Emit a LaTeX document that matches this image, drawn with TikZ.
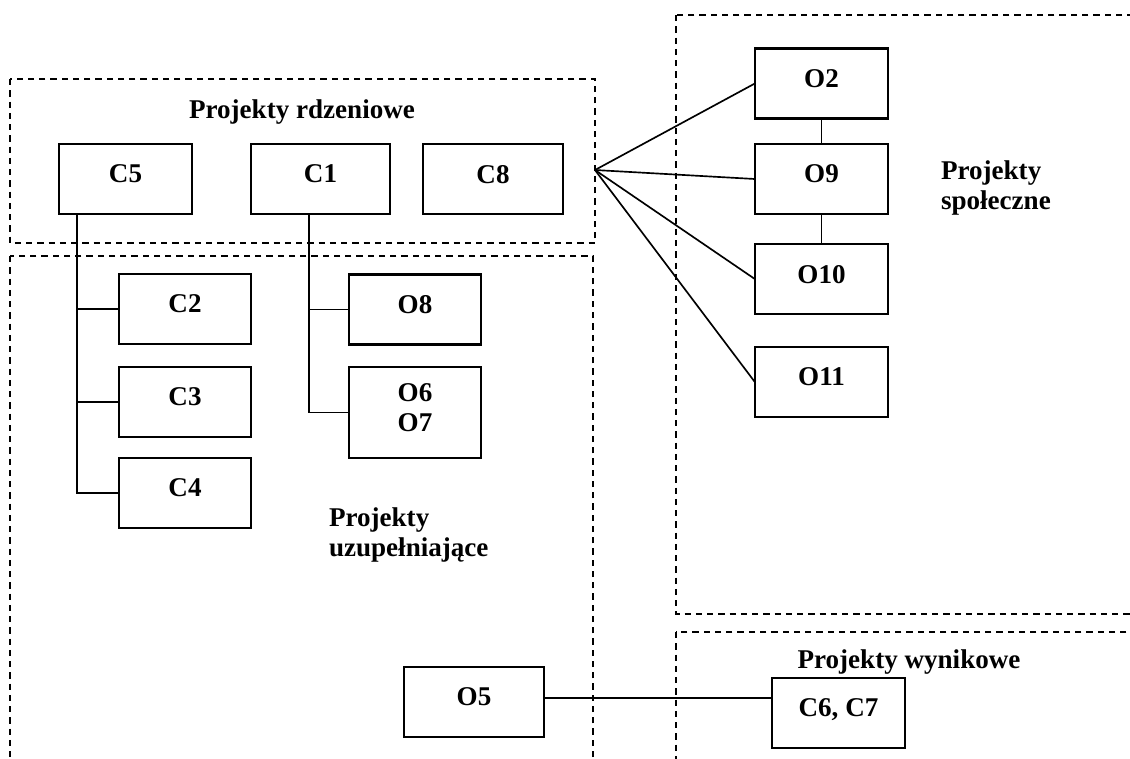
\documentclass[tikz,border=0pt]{standalone}
\usepackage{fontspec}
\setmainfont{Liberation Serif}
\begin{document}
\begin{tikzpicture}[x=0.48pt,y=-0.48pt,inner sep=0pt,outer sep=0pt,
projbox/.style={draw,rectangle,line width=1pt,minimum width=64pt,minimum height=33.6pt,text depth=4.8pt,align=center},
grupa/.style={line width=0.8pt,dash pattern=on 3pt off 2.4pt},
lacze/.style={line width=0.8pt},
opis/.style={align=left,anchor=west}]
\useasboundingbox (0,0) rectangle (1130,758);
\clip (0,0) rectangle (1130,758);
\bfseries\fontsize{13}{14.4}\selectfont

% ramki grup
\draw[grupa] (10,79) rectangle (595,243);
\draw[grupa] (10,256) rectangle (593,800);
\draw[grupa] (676,15) rectangle (1200,614);
\draw[grupa] (676,632) rectangle (1200,800);

\draw (302,112) node (rdzen) {Projekty rdzeniowe};
\draw (941,188) node[opis] (spol) {Projekty\\społeczne};
\draw (329,535) node[opis] (uzup) {Projekty\\uzupełniające};
\draw (909,662) node (wynik) {Projekty wynikowe};

\draw (125.5,179) node[projbox] (C5) {C5};
\draw (320.5,179) node[projbox,minimum width=66.7pt] (C1) {C1};
\draw (493,179) node[projbox,minimum width=67.2pt] (C8) {C8};
\draw (185,309) node[projbox,minimum width=63.4pt] (C2) {C2};
\draw (185,402) node[projbox,minimum width=63.4pt] (C3) {C3};
\draw (185,493) node[projbox,minimum width=63.4pt] (C4) {C4};
\draw (415,309.5) node[projbox,minimum width=63.4pt] (O8) {O8};
\draw (415,412.5) node[projbox,minimum width=63.4pt,minimum height=43.7pt] (O67) {O6\\O7};
\draw (821.5,83.5) node[projbox] (O2) {O2};
\draw (821.5,179) node[projbox] (O9) {O9};
\draw (821.5,279) node[projbox] (O10) {O10};
\draw (821.5,382) node[projbox] (O11) {O11};
\draw (474,702) node[projbox,minimum width=67.2pt] (O5) {O5};
\draw (838.5,713) node[projbox] (C67) {C6, C7};
\coordinate (hub) at (595,170);

\draw[lacze] (C5.south west) ++(18,0) |- (C2.west);
\draw[lacze] (C5.south west) ++(18,0) |- (C3.west);
\draw[lacze] (C5.south west) ++(18,0) |- (C4.west);
\draw[lacze] (C1.south west) ++(58,0) |- (O8.west);
\draw[lacze] (C1.south west) ++(58,0) |- (O67.west);
\draw[lacze] (hub) -- (O2.west);
\draw[lacze] (hub) -- (O9.west);
\draw[lacze] (hub) -- (O10.west);
\draw[lacze] (hub) -- (O11.west);
\draw[lacze] (O2.south) -- (O9.north);
\draw[lacze] (O9.south) -- (O10.north);
\draw[lacze] (O5.east) ++(0,-4) coordinate (O5r) -- (O5r -| C67.west);
\end{tikzpicture}
\end{document}
